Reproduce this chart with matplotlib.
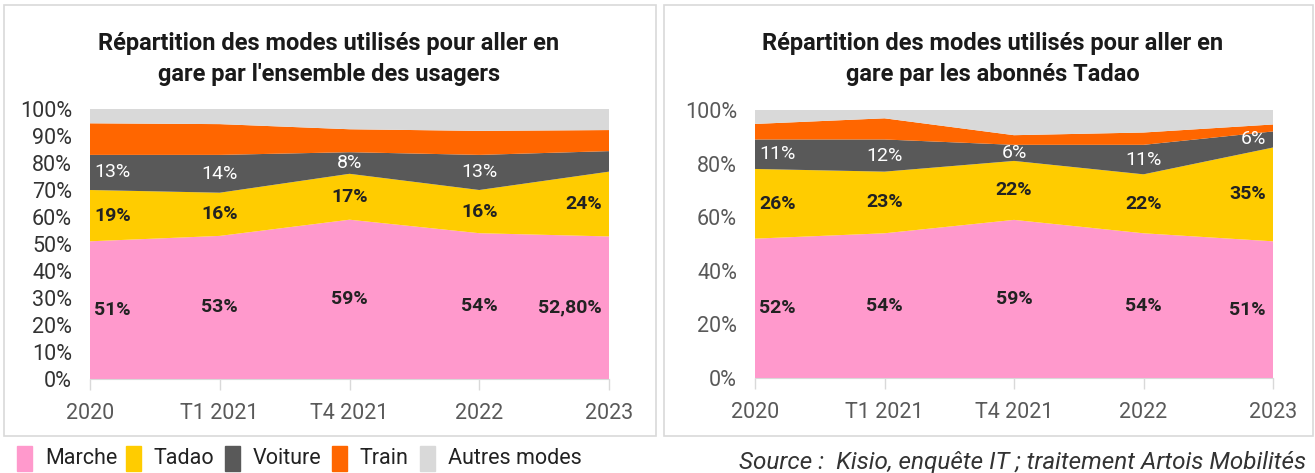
import matplotlib
matplotlib.use("Agg")
import matplotlib.pyplot as plt
from matplotlib.patches import Rectangle

# ---------------- data ----------------
periods = ["2020", "T1 2021", "T4 2021", "2022", "2023"]
series_names = ["Marche", "Tadao", "Voiture", "Train", "Autres modes"]

# Left: all users
all_marche = [51, 53, 59, 54, 52.8]
all_tadao = [19, 16, 17, 16, 24]
all_voiture = [13, 14, 8, 13, 7.6]
all_train = [11.7, 11.4, 8.5, 8.9, 7.8]
all_autres = [100 - a - b - c - d for a, b, c, d in zip(all_marche, all_tadao, all_voiture, all_train)]
all_labels_marche = ["51%", "53%", "59%", "54%", "52,80%"]
all_labels_tadao = ["19%", "16%", "17%", "16%", "24%"]
all_labels_voiture = ["13%", "14%", "8%", "13%", ""]

# Right: Tadao subscribers
sub_marche = [52, 54, 59, 54, 51]
sub_tadao = [26, 23, 22, 22, 35]
sub_voiture = [11, 12, 6, 11, 6]
sub_train = [5.8, 7.9, 3.6, 4.6, 2.6]
sub_autres = [100 - a - b - c - d for a, b, c, d in zip(sub_marche, sub_tadao, sub_voiture, sub_train)]
sub_labels_marche = ["52%", "54%", "59%", "54%", "51%"]
sub_labels_tadao = ["26%", "23%", "22%", "22%", "35%"]
sub_labels_voiture = ["11%", "12%", "6%", "11%", "6%"]

colors = ["#FF99CC", "#FFCC00", "#595959", "#FF6600", "#D9D9D9"]

# ---------------- fonts ----------------
plt.rcParams["font.family"] = ["Roboto", "DejaVu Sans"]

W, H = 1315, 473
fig = plt.figure(figsize=(W / 100, H / 100), dpi=100)
fig.patch.set_facecolor("white")

def fx(px):
    return px / W

def fy(py):
    return 1 - py / H

# panel borders
for x0, x1 in [(4, 656), (664, 1313)]:
    fig.add_artist(Rectangle((fx(x0), fy(436)), fx(x1 - x0), (436 - 5) / H,
                             transform=fig.transFigure, fill=False,
                             edgecolor="#D9D9D9", linewidth=1.2))


def draw(ax, marche, tadao, voiture, train, autres, lm, lt, lv, yticks, tick_color):
    x = list(range(len(periods)))
    ax.stackplot(x, marche, tadao, voiture, train, autres, colors=colors,
                 linewidth=0)
    ax.set_xlim(0, len(periods) - 1)
    ax.set_ylim(0, 100)
    ax.set_xticks(x)
    ax.set_xticklabels(periods)
    ax.set_yticks(yticks)
    ax.set_yticklabels([f"{v}%" for v in yticks])
    for s in ["top", "right", "left"]:
        ax.spines[s].set_visible(False)
    ax.spines["bottom"].set_color("#D9D9D9")
    ax.tick_params(axis="y", length=0, pad=13, labelsize=15.5, labelcolor=tick_color)
    ax.tick_params(axis="x", length=8, width=1, color="#D9D9D9", pad=9,
                   labelsize=15.5, labelcolor="#595959")
    n = len(periods)
    for i in range(n):
        bases = [0, marche[i], marche[i] + tadao[i]]
        vals = [marche[i], tadao[i], voiture[i]]
        labs = [lm[i], lt[i], lv[i]]
        cols = ["#222222", "#222222", "white"]
        for b, v, t, c in zip(bases, vals, labs, cols):
            if not t:
                continue
            if i == 0:
                ha, off = "left", 4
            elif i == n - 1:
                ha, off = "right", -7
            else:
                ha, off = "center", 0
            ax.annotate(t, (i, b + v / 2), xytext=(off, 0), textcoords="offset pixels",
                        ha=ha, va="center", fontsize=14, color=c,
                        fontweight="bold" if c != "white" else "normal")


axL = fig.add_axes([fx(90), fy(379), fx(609 - 90), (379 - 109) / H])
draw(axL, all_marche, all_tadao, all_voiture, all_train, all_autres,
     all_labels_marche, all_labels_tadao, all_labels_voiture,
     list(range(0, 101, 10)), "#333333")

axR = fig.add_axes([fx(755), fy(378), fx(1273 - 755), (378 - 110) / H])
draw(axR, sub_marche, sub_tadao, sub_voiture, sub_train, sub_autres,
     sub_labels_marche, sub_labels_tadao, sub_labels_voiture,
     list(range(0, 101, 20)), "#595959")

fig.text(fx(329), fy(59), "Répartition des modes utilisés pour aller en\ngare par l'ensemble des usagers",
         ha="center", va="center", fontsize=17, fontweight="bold", color="#1a1a1a",
         linespacing=1.45)
fig.text(fx(993), fy(59), "Répartition des modes utilisés pour aller en\ngare par les abonnés Tadao",
         ha="center", va="center", fontsize=17, fontweight="bold", color="#1a1a1a",
         linespacing=1.45)

# legend
sq_x = [17, 126, 225, 332, 420]
for name, col, xs in zip(series_names, colors, sq_x):
    fig.add_artist(Rectangle((fx(xs), fy(471)), fx(15), 25 / H,
                             transform=fig.transFigure, color=col))
    fig.text(fx(xs + 28), fy(458), name, ha="left", va="center", fontsize=15.5,
             color="#222222")

fig.text(fx(1306), fy(462), "Source :  Kisio, enquête IT ; traitement Artois Mobilités",
         ha="right", va="center", fontsize=17.5, style="italic",
         color="#333333")

fig.savefig("out.png", dpi=100)
